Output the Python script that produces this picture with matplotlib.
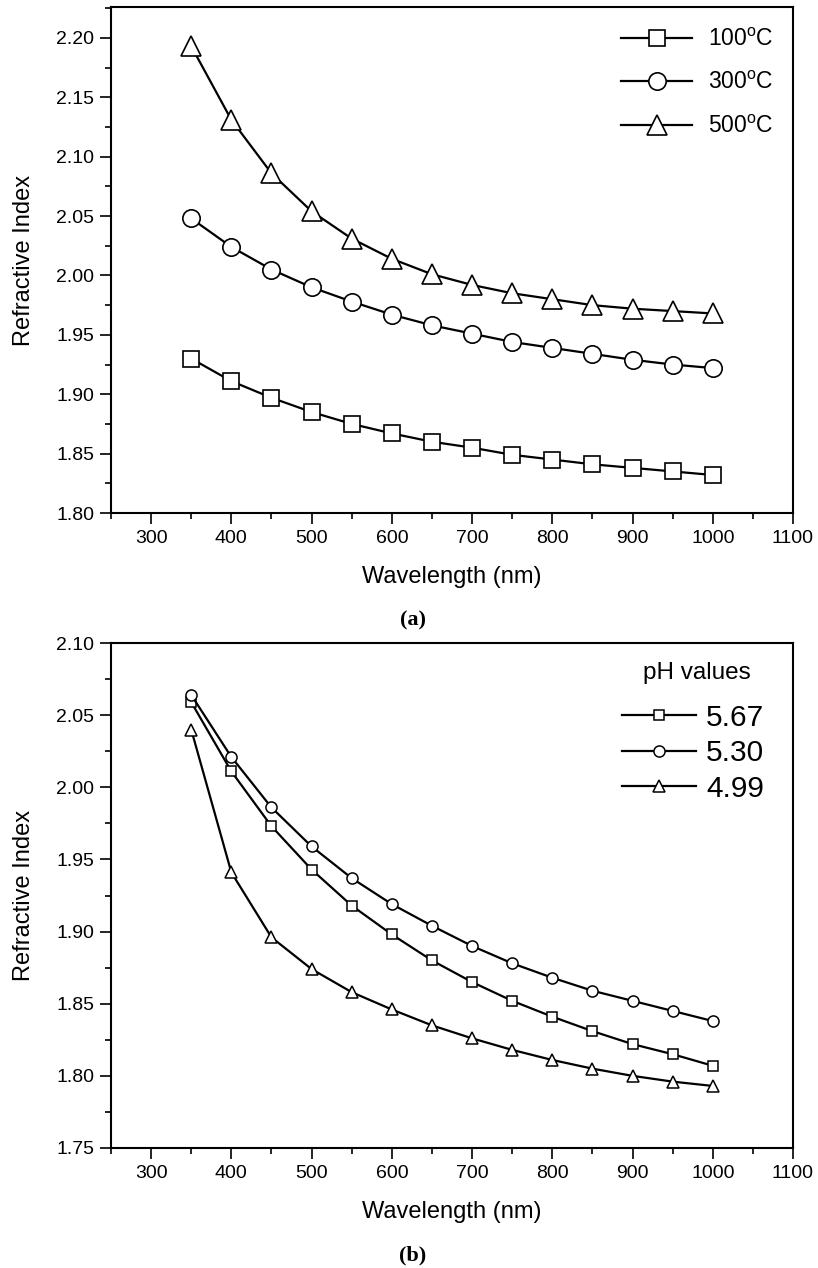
import numpy as np
import matplotlib
matplotlib.use('Agg')
import matplotlib.pyplot as plt
from matplotlib.ticker import MultipleLocator, FormatStrFormatter

plt.rcParams['font.family'] = ['Liberation Sans', 'DejaVu Sans']
plt.rcParams['mathtext.fontset'] = 'custom'
plt.rcParams['mathtext.rm'] = 'Liberation Sans'

wl = [350, 400, 450, 500, 550, 600, 650, 700, 750, 800, 850, 900, 950, 1000]

# (a) temperatura de recocido
t100 = [1.930, 1.911, 1.897, 1.885, 1.875, 1.867, 1.860, 1.855, 1.849, 1.845, 1.841, 1.838, 1.835, 1.832]
t300 = [2.048, 2.024, 2.005, 1.990, 1.978, 1.967, 1.958, 1.951, 1.944, 1.939, 1.934, 1.929, 1.925, 1.922]
t500 = [2.193, 2.131, 2.086, 2.054, 2.031, 2.014, 2.001, 1.992, 1.985, 1.980, 1.975, 1.972, 1.970, 1.968]
temp_labels = ['100$^\\mathregular{o}$C', '300$^\\mathregular{o}$C', '500$^\\mathregular{o}$C']

# (b) valores de pH
ph567 = [2.059, 2.011, 1.973, 1.943, 1.918, 1.898, 1.880, 1.865, 1.852, 1.841, 1.831, 1.822, 1.815, 1.807]
ph530 = [2.064, 2.021, 1.986, 1.959, 1.937, 1.919, 1.904, 1.890, 1.878, 1.868, 1.859, 1.852, 1.845, 1.838]
ph499 = [2.040, 1.941, 1.896, 1.874, 1.858, 1.846, 1.835, 1.826, 1.818, 1.811, 1.805, 1.800, 1.796, 1.793]
ph_labels = ['5.67', '5.30', '4.99']

markers = ['s', 'o', '^']
msize_a = [11, 12.5, 14]
msize_b = [7, 8, 9]

W, H = 818, 1268
fig = plt.figure(figsize=(W / 100, H / 100), dpi=100)
# ejes en pixeles: izquierda 111, derecha 793
ax1 = fig.add_axes([111 / W, 1 - 513 / H, 682 / W, 506 / H])
ax2 = fig.add_axes([111 / W, 1 - 1148 / H, 682 / W, 505 / H])


def estilo(ax, ymin, ymax):
    ax.set_xlim(250, 1100)
    ax.set_ylim(ymin, ymax)
    ax.xaxis.set_major_locator(MultipleLocator(100))
    ax.xaxis.set_minor_locator(MultipleLocator(50))
    ax.yaxis.set_major_locator(MultipleLocator(0.05))
    ax.yaxis.set_minor_locator(MultipleLocator(0.025))
    ax.yaxis.set_major_formatter(FormatStrFormatter('%.2f'))
    ax.tick_params(which='major', direction='out', width=1.2, length=8,
                   labelsize=14, top=False, right=False, pad=4)
    ax.tick_params(which='minor', direction='out', width=1.2, length=4.5,
                   top=False, right=False)
    for s in ax.spines.values():
        s.set_linewidth(1.5)
    ax.set_xlabel('Wavelength (nm)', fontsize=17, labelpad=14)
    ax.set_ylabel('Refractive Index', fontsize=17, labelpad=15)


for ys, m, ms, lab in zip([t100, t300, t500], markers, msize_a, temp_labels):
    ax1.plot(wl, ys, color='black', lw=1.6, marker=m, markersize=ms,
             markerfacecolor='white', markeredgecolor='black', mew=1.2, label=lab)
estilo(ax1, 1.80, 2.226)
ax1.legend(loc='upper right', bbox_to_anchor=(0.972, 0.959), frameon=False,
           fontsize=16.5, handlelength=3.1, handletextpad=0.7, labelspacing=0.9,
           borderpad=0, borderaxespad=0)

for ys, m, ms, lab in zip([ph567, ph530, ph499], markers, msize_b, ph_labels):
    ax2.plot(wl, ys, color='black', lw=1.6, marker=m, markersize=ms,
             markerfacecolor='white', markeredgecolor='black', mew=1.1, label=lab)
estilo(ax2, 1.75, 2.10)
ax2.legend(loc='upper right', bbox_to_anchor=(0.958, 0.88), frameon=False,
           fontsize=21.5, handlelength=2.45, handletextpad=0.35, labelspacing=0.25,
           borderpad=0, borderaxespad=0)
ax2.text((697 - 111) / 682, (1148 - 673) / 505, 'pH values', transform=ax2.transAxes,
         fontsize=17.5, ha='center', va='center')

fig.text(413 / W, 1 - 620 / H, '(a)', ha='center', va='center',
         fontsize=16, fontweight='bold', family='Liberation Serif')
fig.text(413 / W, 1 - 1255 / H, '(b)', ha='center', va='center',
         fontsize=16, fontweight='bold', family='Liberation Serif')

plt.savefig('out.png', dpi=100)
